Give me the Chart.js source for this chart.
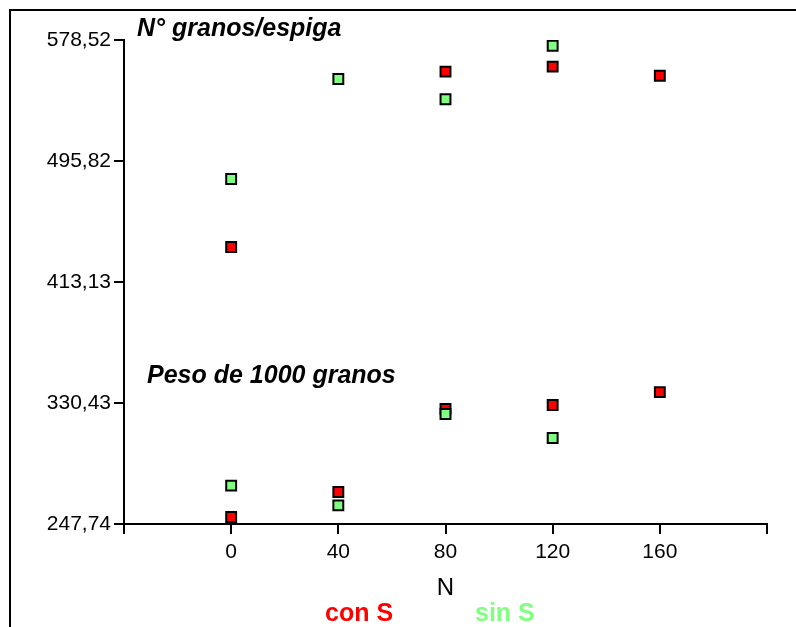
<!DOCTYPE html>
<html>
<head>
<meta charset="utf-8">
<script src="https://cdn.jsdelivr.net/npm/chart.js@4"></script>
<style>
  html, body { margin: 0; padding: 0; background: #fff; }
  #wrap { position: relative; width: 796px; height: 627px; }
</style>
</head>
<body>
<div id="wrap"><canvas id="myChart" width="796" height="627"></canvas></div>
<script>
// N levels (x axis)
const nLevels = [0, 40, 80, 120, 160];

// N° granos/espiga
const granosConS = [437.0, null, 556.9, 560.3, 554.1];
const granosSinS = [483.5, 551.9, 538.0, 574.6, null];

// Peso de 1000 granos
const pesoConS = [252.5, 269.6, 326.3, 329.1, 337.9];
const pesoSinS = [274.0, 260.5, 322.9, 306.5, null];

// axis ticks
const yTicks = [247.74, 330.43, 413.13, 495.82, 578.52];
const yTickLabels = ['247,74', '330,43', '413,13', '495,82', '578,52'];
const xTicks = [-40, 0, 40, 80, 120, 160, 200];
const xTickLabels = ['', '0', '40', '80', '120', '160', ''];

const FONT = "'Liberation Sans', Arial, sans-serif";
const RED = '#ff0000';
const GREEN = '#80ff80';

// turn x values + y values into points, skipping the missing ones
function toPoints(values) {
    let pts = [];
    values.forEach((v, i) => {
        if (v !== null) pts.push({ x: nLevels[i], y: v });
    });
    return pts;
}

function pointSet(label, values, color, order) {
    return {
        label: label,
        data: toPoints(values),
        pointStyle: 'rect',
        pointRadius: 7,
        pointHoverRadius: 7,
        pointBackgroundColor: color,
        pointBorderColor: '#000',
        pointBorderWidth: 2,
        showLine: false,
        order: order
    };
}

// frame, titles and coloured legend text
const textPlugin = {
    id: 'texts',
    beforeDraw(chart) {
        const ctx = chart.ctx;
        ctx.save();
        ctx.fillStyle = '#fff';
        ctx.fillRect(0, 0, chart.width, chart.height);
        ctx.strokeStyle = '#000';
        ctx.lineWidth = 2;
        ctx.beginPath();
        ctx.moveTo(10, chart.height);
        ctx.lineTo(10, 10);
        ctx.lineTo(chart.width, 10);
        ctx.stroke();
        ctx.restore();
    },
    afterDraw(chart) {
        const ctx = chart.ctx;
        ctx.save();
        ctx.textBaseline = 'alphabetic';
        ctx.textAlign = 'left';
        ctx.fillStyle = '#000';
        ctx.font = 'italic bold 25px ' + FONT;
        ctx.fillText('N° granos/espiga', 137, 36);
        ctx.fillText('Peso de 1000 granos', 147, 383);

        ctx.font = 'bold 25px ' + FONT;
        ctx.fillStyle = RED;
        ctx.fillText('con S', 325, 621);
        ctx.fillStyle = GREEN;
        ctx.fillText('sin S', 475, 621);
        ctx.restore();
    }
};

const axisGrid = {
    display: true,
    drawOnChartArea: false,
    drawTicks: true,
    tickLength: 10,
    color: '#000',
    lineWidth: 2
};

new Chart(document.getElementById('myChart'), {
    type: 'scatter',
    data: {
        datasets: [
            pointSet('sin S', granosSinS, GREEN, 0),
            pointSet('sin S', pesoSinS, GREEN, 0),
            pointSet('con S', granosConS, RED, 1),
            pointSet('con S', pesoConS, RED, 1)
        ]
    },
    options: {
        responsive: false,
        animation: false,
        devicePixelRatio: 1,
        layout: {
            padding: { left: 0, top: 40, right: 29, bottom: 24 }
        },
        plugins: {
            legend: { display: false },
            tooltip: { enabled: false }
        },
        scales: {
            x: {
                type: 'linear',
                min: -40,
                max: 200,
                border: { display: true, color: '#000', width: 2 },
                grid: axisGrid,
                afterBuildTicks: (scale) => {
                    scale.ticks = xTicks.map(v => ({ value: v }));
                },
                afterFit: (scale) => {
                    scale.height = 79;
                    scale.paddingLeft = 0;
                    scale.paddingRight = 0;
                },
                ticks: {
                    color: '#000',
                    font: { family: FONT, size: 21 },
                    padding: 6,
                    maxRotation: 0,
                    autoSkip: false,
                    callback: (value, index) => xTickLabels[index]
                },
                title: {
                    display: true,
                    text: 'N',
                    color: '#000',
                    font: { family: FONT, size: 24 },
                    padding: 0
                }
            },
            y: {
                type: 'linear',
                min: yTicks[0],
                max: yTicks[yTicks.length - 1],
                border: { display: true, color: '#000', width: 2 },
                grid: axisGrid,
                afterBuildTicks: (scale) => {
                    scale.ticks = yTicks.map(v => ({ value: v }));
                },
                afterFit: (scale) => {
                    scale.width = 124;
                    scale.paddingTop = 0;
                    scale.paddingBottom = 0;
                },
                ticks: {
                    color: '#000',
                    font: { family: FONT, size: 21 },
                    padding: 3,
                    autoSkip: false,
                    callback: (value, index) => yTickLabels[index]
                }
            }
        }
    },
    plugins: [textPlugin]
});
</script>
</body>
</html>
